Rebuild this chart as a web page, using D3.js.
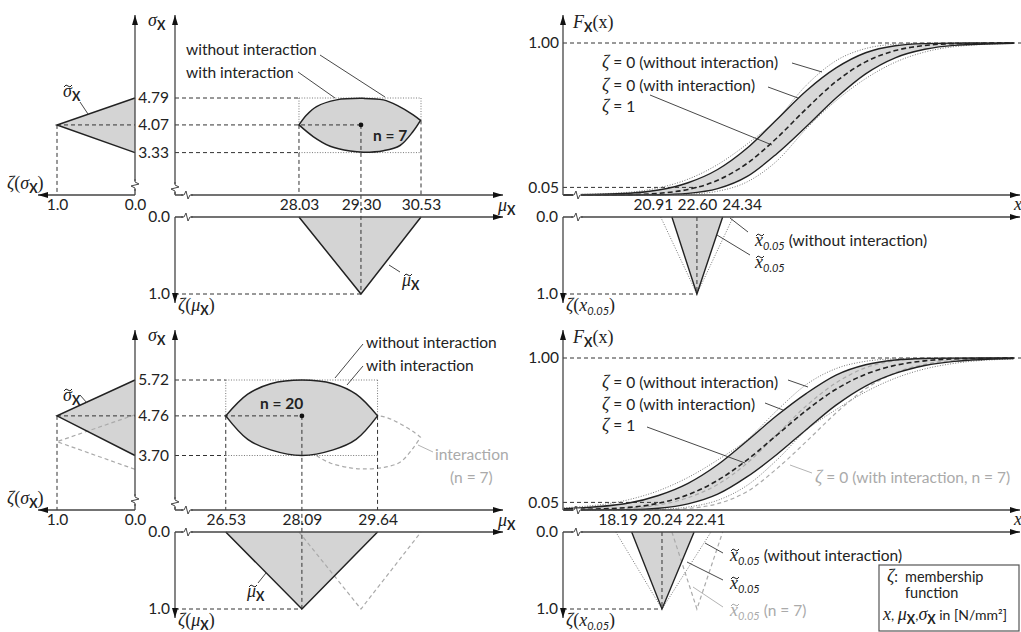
<!DOCTYPE html>
<html><head><meta charset="utf-8">
<script src="https://cdn.jsdelivr.net/npm/d3@7"></script>
<style>
body{margin:0;background:#fff}
text{font-family:Lato,"Open Sans",sans-serif;font-size:15.5px;fill:#222}
</style></head><body>
<svg id="c" width="1021" height="632"></svg>
<script>
// ---------------- DATA ----------------
// lens (joint fuzzy region of mean and std): [mu, sigma]
const lens7Upper  = [[28.03,4.07],[28.19,4.34],[28.39,4.56],[28.80,4.74],[29.35,4.78],[29.76,4.74],[30.06,4.58],[30.37,4.34],[30.52,4.19]];
const lens7Lower  = [[28.03,4.07],[28.32,3.76],[28.67,3.50],[29.08,3.37],[29.35,3.34],[29.76,3.38],[30.10,3.52],[30.37,3.90],[30.52,4.19]];
const lens20Upper = [[26.53,4.76],[26.98,5.34],[27.45,5.62],[28.09,5.72],[28.73,5.62],[29.20,5.34],[29.64,4.76]];
const lens20Lower = [[26.53,4.76],[26.98,4.13],[27.45,3.85],[28.09,3.70],[28.73,3.85],[29.20,4.13],[29.64,4.76]];
const mu7 = [28.03, 29.30, 30.53];
const sigma7 = [4.79, 4.07, 3.33];
const mu20 = [26.53, 28.09, 29.64];
const sigma20 = [5.72, 4.76, 3.70];
const x05_7 = [20.91, 22.60, 24.34];
const x05_7NoInt = [20.15, 25.05];
const x05_20 = [18.19, 20.24, 22.41];
const x05_20NoInt = [17.12, 23.55];
const zetaTicks = [1.0, 0.0];
const cdfTicks = [0.05, 1.00];
// distribution functions F_X(x), read at these x values
const xGrid = [13.6, 18, 20, 22, 24, 26, 28, 30, 32, 34, 36, 38, 40, 44];
const F7Zeta1     = [0.0001,0.0027,0.0112,0.0364,0.0965,0.2087,0.3749,0.5683,0.7464,0.8759,0.9501,0.9837,0.9957,0.9998];
const F7Upper     = [0.0009,0.0116,0.0329,0.0808,0.1678,0.3090,0.4970,0.6860,0.8360,0.9360,0.9819,0.9962,0.9994,1.0000];
const F7Lower     = [0.0000,0.0003,0.0019,0.0107,0.0415,0.1220,0.2716,0.4507,0.6380,0.7970,0.9027,0.9585,0.9846,0.9987];
const F7UpperNoInt= [0.0017,0.0181,0.0469,0.1040,0.2002,0.3358,0.4975,0.7230,0.8834,0.9635,0.9917,0.9986,0.9998,1.0000];
const F7LowerNoInt= [0.0000,0.0001,0.0008,0.0052,0.0249,0.0869,0.2237,0.4368,0.6206,0.7656,0.8733,0.9406,0.9760,0.9975];
const F20Zeta1     = [0.0015,0.0170,0.0446,0.1004,0.1951,0.3303,0.4925,0.6558,0.7943,0.8929,0.9517,0.9813,0.9938,0.9996];
const F20Upper     = [0.0084,0.0464,0.0956,0.1754,0.2974,0.4558,0.6213,0.7676,0.8878,0.9554,0.9868,0.9969,0.9994,1.0000];
const F20Lower     = [0.0001,0.0027,0.0117,0.0402,0.1040,0.2192,0.3651,0.5300,0.6900,0.8157,0.8985,0.9503,0.9775,0.9967];
const F20UpperNoInt= [0.0142,0.0680,0.1268,0.2142,0.3292,0.4630,0.6544,0.8259,0.9303,0.9783,0.9948,0.9990,0.9999,1.0000];
const F20LowerNoInt= [0.0000,0.0008,0.0046,0.0195,0.0637,0.1626,0.3289,0.5251,0.6602,0.7770,0.8669,0.9281,0.9649,0.9940];

// ---------------- SETUP ----------------
const svg = d3.select("#c");
const defs = svg.append("defs");
defs.append("marker").attr("id","arr").attr("viewBox","0 0 10 6").attr("refX",10).attr("refY",3)
  .attr("markerWidth",10).attr("markerHeight",6).attr("markerUnits","userSpaceOnUse").attr("orient","auto")
  .append("path").attr("d","M0,0L10,3L0,6Z").attr("fill","#111");

const STY = {
  axis:{stroke:"#444","stroke-width":1.3},
  dash:{stroke:"#333","stroke-width":1,"stroke-dasharray":"4,3"},
  dot:{stroke:"#777","stroke-width":1,"stroke-dasharray":"1,1.6"},
  lead:{stroke:"#333","stroke-width":0.9},
  gdash:{stroke:"#aaa","stroke-width":1.2,"stroke-dasharray":"4,3"},
  glead:{stroke:"#aaa","stroke-width":0.9},
  edge:{stroke:"#222","stroke-width":1.5}
};
function sty(sel, k){ Object.entries(STY[k]).forEach(([a,v])=>sel.attr(a,v)); return sel.attr("fill","none"); }
function ln(g,x1,y1,x2,y2,k,arrow){
  const l = sty(g.append("line").attr("x1",x1).attr("y1",y1).attr("x2",x2).attr("y2",y2),k);
  if(arrow) l.attr("marker-end","url(#arr)");
  return l;
}
function poly(g,pts,k){ return sty(g.append("path").attr("d", d3.line()(pts)),k); }
function brk(g,x,y,vertical){
  if(vertical){
    g.append("line").attr("x1",x).attr("x2",x).attr("y1",y-4).attr("y2",y+4).attr("stroke","#fff").attr("stroke-width",3);
    sty(g.append("path").attr("d",`M${x},${y-6}L${x},${y-3}L${x+4},${y-1}L${x-4},${y+1}L${x},${y+3}L${x},${y+6}`),"axis").attr("stroke-width",1);
  } else {
    g.append("line").attr("y1",y).attr("y2",y).attr("x1",x-4).attr("x2",x+4).attr("stroke","#fff").attr("stroke-width",3);
    sty(g.append("path").attr("d",`M${x-6},${y}L${x-3},${y}L${x-1},${y-4}L${x+1},${y+4}L${x+3},${y}L${x+6},${y}`),"axis").attr("stroke-width",1);
  }
}

const muScale = d3.scaleLinear().domain([25.49, 32.21]).range([175, 503]);
const zH = d3.scaleLinear().domain([0,1]).range([135,57]);
const zV = d3.scaleLinear().domain([0,1]).range([217,294]);
const xF = d3.scaleLinear().domain([13.55,44.5]).range([563,1021]);
const FS = d3.scaleLinear().domain([0,1]).range([195,43]);
const AX = 195, ZA = 217;

function rowData(dy, mu, sigma, sigRange, up, lo, x05, x05No, Fz1, Fu, Fl, FuNo, FlNo, dx05){
  return {dy, mu, sigma, sigRange, up, lo, x05, x05No, Fz1, Fu, Fl, FuNo, FlNo, dx05};
}
const rows = [
  rowData(0, mu7, sigma7, [152.6,98], lens7Upper, lens7Lower, x05_7, x05_7NoInt, F7Zeta1, F7Upper, F7Lower, F7UpperNoInt, F7LowerNoInt, [-19,0,19]),
  rowData(315, mu20, sigma20, [140.5,65], lens20Upper, lens20Lower, x05_20, x05_20NoInt, F20Zeta1, F20Upper, F20Lower, F20UpperNoInt, F20LowerNoInt, [-14,0,11])
];

function lensPath(up, lo, mu, sig){
  const lg = d3.line().x(d=>mu(d[0])).y(d=>sig(d[1])).curve(d3.curveCatmullRom);
  return lg(up) + lg(lo.slice().reverse()).replace(/^M/,"L") + "Z";
}

rows.forEach((r, ri) => {
  const g = svg.append("g").attr("transform", `translate(0,${r.dy})`);
  const mu = muScale;
  const sig = d3.scaleLinear().domain([r.sigma[2], r.sigma[0]]).range(r.sigRange);
  const [muL, muC, muR] = r.mu;
  const [sHi, sC, sLo] = r.sigma;
  const tipL = r.up[0], tipR = r.up[r.up.length-1];
  const gray = ri === 1;

  // ---- left sigma membership panel ----
  g.append("path").attr("d", d3.line()([[zH(0),sig(sHi)],[zH(1),sig(sC)],[zH(0),sig(sLo)]])+"Z").attr("fill","#d4d4d4");
  if(gray) poly(g, [[zH(0),sig(sigma7[0])],[zH(1),sig(sigma7[1])],[zH(0),sig(sigma7[2])]], "gdash");
  ln(g, zH(1), sig(sC), zH(0), sig(sC), "dash");
  ln(g, zH(1), sig(sC), zH(1), AX, "dash");
  poly(g, [[zH(0),sig(sHi)],[zH(1),sig(sC)],[zH(0),sig(sLo)]], "edge");
  ln(g, zH(0), AX, zH(0), 15, "axis", true);
  ln(g, zH(0), AX, 38, AX, "axis", true);
  brk(g, zH(0), 185, true);
  const zAxis = g.append("g").attr("transform",`translate(0,${AX})`)
    .call(d3.axisBottom(zH).tickValues(zetaTicks).tickFormat(d3.format(".1f")).tickSize(0).tickPadding(4));
  zAxis.select(".domain").remove();

  // ---- mu-sigma panel ----
  if(gray) sty(g.append("path").attr("d", lensPath(lens7Upper, lens7Lower, mu, sig)), "gdash");
  g.append("path").attr("d", lensPath(r.up, r.lo, mu, sig)).attr("fill","#d4d4d4");
  ln(g, 175, sig(sHi), mu(muL), sig(sHi), "dash");
  ln(g, mu(muL), sig(sHi), mu(muR), sig(sHi), "dot");
  ln(g, 175, sig(sLo), mu(muL), sig(sLo), "dash");
  ln(g, mu(muL), sig(sLo), mu(muR), sig(sLo), "dot");
  ln(g, 175, sig(sC), mu(muC), sig(sC), "dash");
  ln(g, mu(muL), sig(sHi), mu(muL), sig(tipL[1]), "dot");
  ln(g, mu(muR), sig(sHi), mu(muR), sig(tipR[1]), "dot");
  ln(g, mu(muL), sig(tipL[1]), mu(muL), AX, "dash");
  ln(g, mu(muR), sig(tipR[1]), mu(muR), AX, "dash");
  g.append("path").attr("d", d3.line()([[mu(muL),zV(0)],[mu(muC),zV(1)],[mu(muR),zV(0)]])+"Z").attr("fill","#d4d4d4");
  if(gray) poly(g, [[mu(mu7[0]),zV(0)],[mu(mu7[1]),zV(1)],[mu(mu7[2]),zV(0)]], "gdash");
  ln(g, mu(muC), sig(sC), mu(muC), zV(1), "dash");
  ln(g, 175, zV(1), mu(muC), zV(1), "dash");
  poly(g, [[mu(muL),zV(0)],[mu(muC),zV(1)],[mu(muR),zV(0)]], "edge");
  sty(g.append("path").attr("d", lensPath(r.up, r.lo, mu, sig)), "edge");
  g.append("circle").attr("cx",mu(muC)).attr("cy",sig(sC)).attr("r",2.4).attr("fill","#111");
  ln(g, 175, AX, 175, 15, "axis", true);
  brk(g, 175, 188, true);
  ln(g, 175, AX, 503, AX, "axis", true);
  brk(g, 187, AX, false);
  ln(g, 175, ZA, 503, ZA, "axis", true);
  brk(g, 187, ZA, false);
  ln(g, 175, ZA, 175, 303, "axis", true);
  const sAx = g.append("g").attr("transform","translate(175,0)")
    .call(d3.axisLeft(sig).tickValues(r.sigma).tickFormat(d3.format(".2f")).tickSize(0).tickPadding(6));
  sAx.select(".domain").remove();
  const mAx = g.append("g").attr("transform",`translate(0,${AX})`)
    .call(d3.axisBottom(mu).tickValues(r.mu).tickFormat(d3.format(".2f")).tickSize(0).tickPadding(4));
  mAx.select(".domain").remove();
  const zvAx = g.append("g").attr("transform","translate(175,0)")
    .call(d3.axisLeft(zV).tickValues([0,1]).tickFormat(d3.format(".1f")).tickSize(0).tickPadding(5));
  zvAx.select(".domain").remove();

  // ---- CDF panel ----
  const lineF = arr => d3.line().x((d,i)=>xF(xGrid[i])).y(d=>FS(d)).curve(d3.curveMonotoneX)(arr);
  const band = d3.area().x((d,i)=>xF(xGrid[i])).y0((d,i)=>FS(r.Fl[i])).y1(d=>FS(d)).curve(d3.curveMonotoneX);
  g.append("path").attr("d", band(r.Fu)).attr("fill","#d8d8d8");
  ln(g, 563, FS(1), 1021, FS(1), "dash");
  ln(g, 563, FS(0.05), xF(r.x05[1]), FS(0.05), "dash");
  sty(g.append("path").attr("d", lineF(r.FuNo)), "dot");
  sty(g.append("path").attr("d", lineF(r.FlNo)), "dot");
  if(gray){
    sty(g.append("path").attr("d", lineF(F7Upper)), "gdash");
    sty(g.append("path").attr("d", lineF(F7Lower)), "gdash");
  }
  sty(g.append("path").attr("d", lineF(r.Fu)), "edge").attr("stroke-width",1.4);
  sty(g.append("path").attr("d", lineF(r.Fl)), "edge").attr("stroke-width",1.4);
  sty(g.append("path").attr("d", lineF(r.Fz1)), "dash").attr("stroke-width",1.6).attr("stroke","#222").attr("stroke-dasharray","5,3");
  const [xa, xc, xb] = r.x05;
  g.append("path").attr("d", d3.line()([[xF(xa),zV(0)],[xF(xc),zV(1)],[xF(xb),zV(0)]])+"Z").attr("fill","#d4d4d4");
  poly(g, [[xF(r.x05No[0]),zV(0)],[xF(xc),zV(1)],[xF(r.x05No[1]),zV(0)]], "dot");
  if(gray) poly(g, [[xF(x05_7[0]),zV(0)],[xF(x05_7[1]),zV(1)],[xF(x05_7[2]),zV(0)]], "gdash");
  ln(g, xF(xc), zV(0), xF(xc), zV(1), "dash");
  ln(g, 563, zV(1), xF(xc), zV(1), "dash");
  poly(g, [[xF(xa),zV(0)],[xF(xc),zV(1)],[xF(xb),zV(0)]], "edge").attr("stroke-width",1.4);
  ln(g, 563, AX, 563, 15, "axis", true);
  ln(g, 563, AX, 1020, AX, "axis", true);
  brk(g, 577, AX, false);
  ln(g, 563, ZA, 1020, ZA, "axis", true);
  brk(g, 577, ZA, false);
  ln(g, 563, ZA, 563, 303, "axis", true);
  const fAx = g.append("g").attr("transform","translate(563,0)")
    .call(d3.axisLeft(FS).tickValues(cdfTicks).tickFormat(d3.format(".2f")).tickSize(0).tickPadding(4));
  fAx.select(".domain").remove();
  const z2Ax = g.append("g").attr("transform","translate(563,0)")
    .call(d3.axisLeft(zV).tickValues([0,1]).tickFormat(d3.format(".1f")).tickSize(0).tickPadding(5));
  z2Ax.select(".domain").remove();
  const xAx = g.append("g").attr("transform",`translate(0,${AX})`)
    .call(d3.axisBottom(xF).tickValues(r.x05).tickFormat(d3.format(".2f")).tickSize(0).tickPadding(4));
  xAx.select(".domain").remove();
  xAx.selectAll("text").attr("dx",(d,i)=>r.dx05[i]);
  g.selectAll(".tick text").style("font-size","15.5px").style("font-family","Lato").style("fill","#222");
});

// ---------------- ANNOTATIONS ----------------
const SERIF = "'Liberation Serif','DejaVu Serif',serif";
function rich(x, y, parts, fill, size){
  const t = svg.append("text").attr("x",x).attr("y",y);
  if(fill) t.style("fill",fill);
  if(size) t.style("font-size",size+"px");
  let cur = 0;
  parts.forEach(([s,k]) => {
    const sp = t.append("tspan").text(s);
    let target = 0;
    if(k==="i"){ sp.style("font-family",SERIF).style("font-style","italic").style("font-size","18px"); }
    else if(k==="s"){ sp.style("font-family",SERIF).style("font-size","18px"); }
    else if(k==="sub"){ sp.style("font-family","Lato").style("font-weight","bold").style("font-size","12.5px"); target = 4; }
    else if(k==="subi"){ sp.style("font-family","Lato").style("font-style","italic").style("font-size","11px"); target = 4; }
    else if(k==="b"){ sp.style("font-weight","bold"); }
    if(fill) sp.style("fill",fill);
    if(target!==cur){ sp.attr("dy", target-cur); cur = target; }
  });
  return t;
}
// tilde accent drawn as a small wave above a glyph whose baseline is y
function tilde(x, y, fill){
  svg.append("path").attr("d",`M${x+1},${y-10} q2,-3.5 4,-1 t4,-1`)
    .attr("fill","none").attr("stroke",fill||"#222").attr("stroke-width",1);
}
const sigX = [["σ","i"],["X","sub"]];
const muX = [["μ","i"],["X","sub"]];
const zSig = [["ζ","i"],["(","s"],["σ","i"],["X","sub"],[")","s"]];
const zMu = [["ζ","i"],["(","s"],["μ","i"],["X","sub"],[")","s"]];
const zX = [["ζ","i"],["(","s"],["x","i"],["0.05","subi"],[")","s"]];
const FX = [["F","i"],["X","sub"],["(x)","s"]];
const xt = [["x","i"],["0.05","subi"]];

// row 1
rich(148, 26, sigX); rich(7, 189, zSig); rich(178, 311, zMu); rich(498, 211, muX);
rich(63, 97, sigX); tilde(63, 97);
rich(402, 286, muX); tilde(403, 286);
svg.append("text").attr("x",186).attr("y",55).text("without interaction");
svg.append("text").attr("x",186).attr("y",78).text("with interaction");
rich(373, 141, [["n = 7","b"]]);
rich(573, 28, FX); rich(566, 311, zX); rich(1014, 210, [["x","i"]]);
rich(602, 68, [["ζ","i"],[" = 0 (without interaction)","n"]]);
rich(602, 91, [["ζ","i"],[" = 0 (with interaction)","n"]]);
rich(602, 112, [["ζ","i"],[" = 1","n"]]);
rich(755, 246, [["x","i"],["0.05","subi"],[" (without interaction)","n"]]); tilde(755, 246);
rich(755, 268, xt); tilde(755, 268);
// row 2
rich(148, 341, sigX); rich(7, 504, zSig); rich(178, 626, zMu); rich(498, 526, muX);
rich(63, 401, sigX); tilde(63, 401);
rich(247, 597, muX); tilde(248, 597);
svg.append("text").attr("x",366).attr("y",348).text("without interaction");
svg.append("text").attr("x",366).attr("y",371).text("with interaction");
rich(260, 409, [["n = 20","b"]]);
svg.append("text").attr("x",435).attr("y",460).text("interaction").style("fill","#aaa");
svg.append("text").attr("x",450).attr("y",483).text("(n = 7)").style("fill","#aaa");
rich(573, 343, FX); rich(566, 626, zX); rich(1014, 525, [["x","i"]]);
rich(602, 388, [["ζ","i"],[" = 0 (without interaction)","n"]]);
rich(602, 410, [["ζ","i"],[" = 0 (with interaction)","n"]]);
rich(602, 431, [["ζ","i"],[" = 1","n"]]);
rich(815, 483, [["ζ","i"],[" = 0 (with interaction, n = 7)","n"]], "#aaa");
rich(730, 561, [["x","i"],["0.05","subi"],[" (without interaction)","n"]]); tilde(730, 561);
rich(730, 589, xt); tilde(730, 589);
rich(730, 616, [["x","i"],["0.05","subi"],[" (n = 7)","n"]], "#aaa"); tilde(730, 616, "#aaa");

// leader lines
const leaders = [[80,102,88,114],[320,55,385,97],[298,72,335,98],[389,265,400,272],[792,63,822,72],[768,87,798,98],[650,95,772,145],[730,218,748,232],[717,235,750,255],
  [80,395,87,403],[363,344,335,378],[363,366,347,385],[266,573,258,583],[788,380,808,387],[765,403,783,410],[647,427,745,463],[705,543,723,553],[687,562,723,580]];
leaders.forEach(d=>ln(svg,d[0],d[1],d[2],d[3],"lead"));
[[418,445,433,452],[812,473,790,465],[693,587,723,607]].forEach(d=>ln(svg,d[0],d[1],d[2],d[3],"glead"));

// legend box
svg.append("rect").attr("x",879).attr("y",565).attr("width",140).attr("height",66).attr("fill","#fff").attr("stroke","#555").attr("stroke-width",1.2);
rich(887, 582, [["ζ","i"],[":","n"]], null, 14.5);
svg.append("text").attr("x",905).attr("y",582).text("membership").style("font-size","14.5px");
svg.append("text").attr("x",905).attr("y",598).text("function").style("font-size","14.5px");
rich(883, 620, [["x","i"],[", ","n"],["μ","i"],["X","sub"],[",","n"],["σ","i"],["X","sub"],[" in [N/mm²]","n"]], null, 14);
</script></body></html>
